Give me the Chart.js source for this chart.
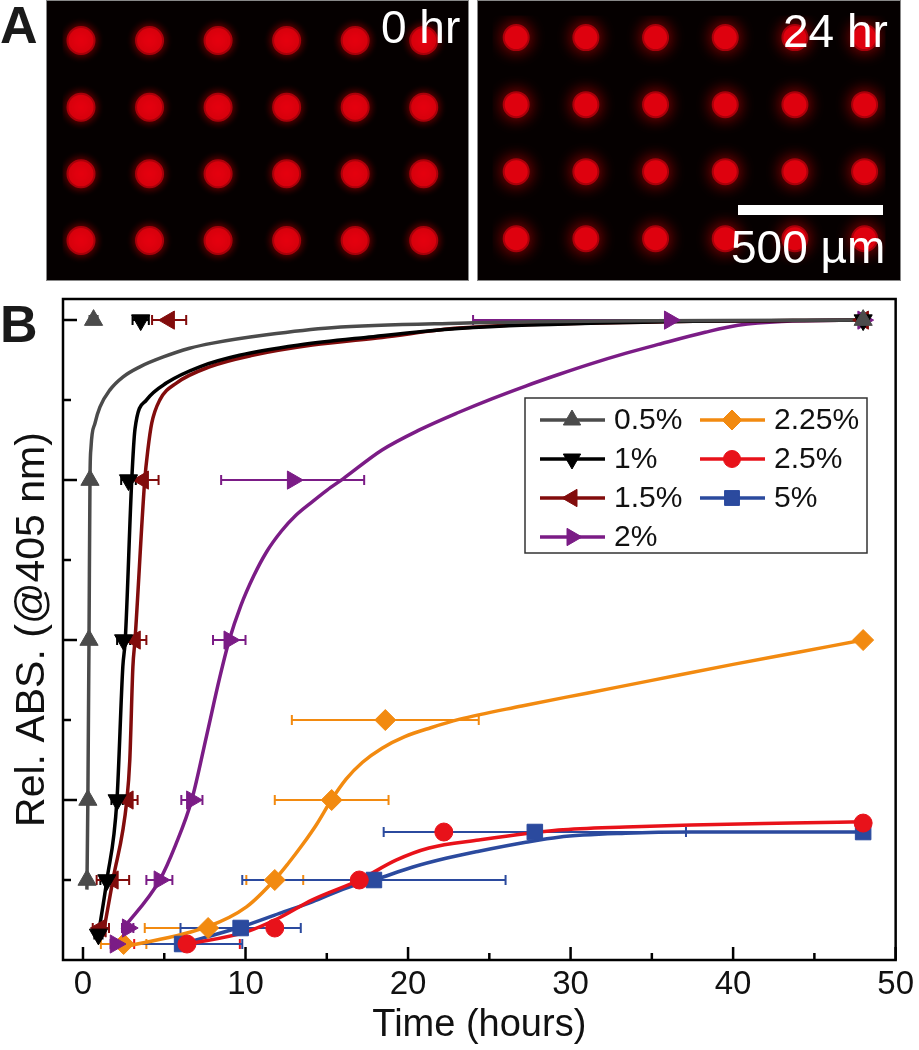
<!DOCTYPE html>
<html>
<head>
<meta charset="utf-8">
<script src="https://cdn.jsdelivr.net/npm/chart.js@4.4.1/dist/chart.umd.min.js"></script>
<style>
body { margin: 0; background: #fff; font-family: "Liberation Sans", Arial, sans-serif; }
#page { position: relative; width: 919px; height: 1050px; overflow: hidden; }
.abs { position: absolute; }
.panel { font-weight: bold; font-size: 52px; line-height: 52px; color: #1a1a1a; }
.imgtxt { color: #fff; font-size: 46px; line-height: 46px; white-space: nowrap; }
canvas.img { outline: 1px solid #888; }
</style>
</head>
<body>
<div id="page">
  <div class="abs panel" style="left:0;top:-1px">A</div>
  <canvas id="img0" class="abs img" width="421" height="279" style="left:47px;top:1px"></canvas>
  <canvas id="img24" class="abs img" width="422" height="279" style="left:478px;top:1px"></canvas>
  <div class="abs imgtxt" style="left:381px;top:4px">0 hr</div>
  <div class="abs imgtxt" style="left:783px;top:8px">24 hr</div>
  <div class="abs" style="left:738px;top:205px;width:145px;height:10px;background:#fff"></div>
  <div class="abs imgtxt" style="left:731px;top:224px">500 µm</div>

  <div class="abs panel" style="left:0;top:298px">B</div>
  <canvas id="kinetics" class="abs" width="919" height="765" style="left:0;top:285px"></canvas>
</div>

<script>
// ---- panel A: dot arrays ----
const dotCols = [0, 1, 2, 3, 4, 5];
const dotRows = [0, 1, 2, 3];

// ---- panel B: series ----
const seriesLabels = ['0.5%', '1%', '1.5%', '2%', '2.25%', '2.5%', '5%'];
const seriesColors = ['#4b4b4b', '#000000', '#820c0c', '#7b1c86', '#f28a10', '#e8121a', '#2b4a9e'];
const markerStyles = ['triangle', 'triangle', 'triangle', 'triangle', 'rectRot', 'circle', 'rect'];
const markerRotations = [0, 180, 270, 90, 0, 0, 0];
const markerRadii = [10.5, 10.5, 10.5, 10.5, 10.5, 9, 11];

// measured points: time (h), relative absorbance, time error (h)
const time05 = [0.65, 0.43, 0.37, 0.3, 0.25, 48];
const abs05 = [1.0, 0.75, 0.5, 0.25, 0.125, 1.0];
const err05 = [0.25, 0.1, 0.1, 0.1, 0.1, 0];

const time1 = [3.55, 2.8, 2.5, 2.1, 1.47, 0.95, 48];
const abs1 = [1.0, 0.75, 0.5, 0.25, 0.125, 0.04, 1.0];
const err1 = [0.5, 0.45, 0.4, 0.35, 0.4, 0.25, 0];

const time15 = [5.3, 3.7, 3.2, 2.76, 1.84, 1.1, 48];
const abs15 = [1.0, 0.75, 0.5, 0.25, 0.125, 0.05, 1.0];
const err15 = [1.05, 0.95, 0.7, 0.6, 1.0, 0.5, 0];

const time2 = [36.1, 12.9, 9.0, 6.7, 4.7, 2.75, 2.0, 48];
const abs2 = [1.0, 0.75, 0.5, 0.25, 0.125, 0.05, 0.025, 1.0];
const err2 = [12.1, 4.4, 1.0, 0.65, 0.8, 0.35, 0.3, 0];

const time225 = [48, 18.6, 15.3, 11.8, 7.7, 2.5];
const abs225 = [0.5, 0.375, 0.25, 0.125, 0.05, 0.025];
const err225 = [0, 5.75, 3.5, 1.75, 3.9, 1.4];

const time25 = [48, 22.2, 17.0, 11.8, 6.4];
const abs25 = [0.214, 0.2, 0.125, 0.05, 0.025];
const err25 = [0, 0, 0, 0, 3.25];

const time5 = [48, 27.8, 17.9, 9.7, 6.1];
const abs5 = [0.2, 0.2, 0.125, 0.05, 0.025];
const err5 = [0, 9.3, 8.1, 3.7, 3.7];

// fitted curves
const fit05X = [0.24, 0.3, 0.37, 0.43, 0.49, 0.74, 1.04, 1.66, 2.45, 3.5, 4.9, 6.56, 7.98, 11.3, 15.3, 23.1, 35, 48];
const fit05Y = [0.11, 0.25, 0.5, 0.75, 0.8, 0.839, 0.864, 0.891, 0.911, 0.927, 0.942, 0.956, 0.964, 0.977, 0.988, 0.995, 0.999, 1.0];

const fit1X = [0.92, 1.47, 2.09, 2.45, 2.6, 3.0, 3.2, 3.9, 5.15, 7.18, 9.63, 13.3, 17.4, 23.1, 35, 48];
const fit1Y = [0.036, 0.125, 0.25, 0.458, 0.5, 0.75, 0.83, 0.875, 0.902, 0.927, 0.945, 0.961, 0.973, 0.987, 0.997, 1.0];

const fit15X = [1.23, 1.84, 2.7, 2.88, 3.07, 3.2, 3.8, 3.99, 4.23, 4.72, 5.77, 7.79, 10.43, 14.11, 18.4, 23.13, 35, 48];
const fit15Y = [0.039, 0.125, 0.25, 0.3125, 0.458, 0.5, 0.75, 0.797, 0.839, 0.875, 0.902, 0.927, 0.945, 0.961, 0.973, 0.9875, 0.997, 1.0];

const fit2X = [2.4, 4.72, 5.7, 6.69, 7.6, 8.4, 9.0, 9.7, 10.5, 11.3, 12.2, 13.1, 14.1, 15.0, 16.0, 18.4, 20.67, 23.13, 25.15, 27.24, 29.26, 31.29, 33.37, 35.4, 38.28, 40.3, 43, 48];
const fit2Y = [0.047, 0.125, 0.18, 0.25, 0.35, 0.44, 0.5, 0.553, 0.6, 0.638, 0.67, 0.695, 0.716, 0.734, 0.752, 0.797, 0.828, 0.856, 0.877, 0.897, 0.915, 0.932, 0.948, 0.962, 0.981, 0.992, 0.998, 1.0];

const fit225X = [2.45, 7.67, 10.06, 11.78, 12.6, 13.5, 14.4, 15.28, 16.2, 17.2, 18.4, 19.8, 21.4, 23.13, 27, 31, 35, 40, 44, 48];
const fit225Y = [0.02, 0.052, 0.083, 0.125, 0.15, 0.18, 0.213, 0.25, 0.283, 0.309, 0.331, 0.349, 0.363, 0.376, 0.397, 0.417, 0.437, 0.462, 0.481, 0.5];

const fit25X = [6.44, 10.06, 12.09, 14.11, 17.0, 19.26, 21.29, 24.36, 29.26, 33.37, 37.42, 43.56, 48];
const fit25Y = [0.025, 0.044, 0.066, 0.094, 0.125, 0.156, 0.175, 0.1875, 0.203, 0.208, 0.211, 0.214, 0.216];

const fit5X = [6.07, 9.75, 12.09, 14.11, 16.2, 17.91, 20.25, 22.33, 24.36, 27.24, 29.26, 33.37, 37.42, 48];
const fit5Y = [0.025, 0.052, 0.073, 0.091, 0.1125, 0.125, 0.145, 0.159, 0.17, 0.184, 0.192, 0.198, 0.2, 0.2];

// axis ticks
const xTickLabels = [0, 10, 20, 30, 40, 50];
const xMinorTicks = [5, 15, 25, 35, 45];
const yMajorTicks = [0.25, 0.5, 0.75, 1.0];
const yMinorTicks = [0.125, 0.375, 0.625, 0.875];

const FONT = '"Liberation Sans", Arial, sans-serif';
Chart.defaults.font.family = FONT;
Chart.defaults.color = '#111';

// ---------- panel A ----------
const blackBg = {
  id: 'blackBg',
  beforeDraw(chart) {
    const ctx = chart.ctx;
    ctx.save();
    ctx.fillStyle = '#050000';
    ctx.fillRect(0, 0, chart.width, chart.height);
    ctx.restore();
  },
  beforeDatasetsDraw(chart, args, opts) {
    chart.ctx.save();
    chart.ctx.shadowColor = opts.glow;
    chart.ctx.shadowBlur = opts.blur;
  },
  afterDatasetsDraw(chart) {
    chart.ctx.restore();
  }
};

function dotChart(id, xMin, xMax, yMin, yMax, radius, glow, blur) {
  const pts = [];
  dotRows.forEach(r => dotCols.forEach(c => pts.push({x: c, y: r})));
  new Chart(document.getElementById(id), {
    type: 'scatter',
    data: {datasets: [{data: pts, pointRadius: radius, pointBackgroundColor: '#e4000f', pointBorderColor: '#a8000a', pointBorderWidth: 2}]},
    options: {
      responsive: false,
      animation: false,
      layout: {padding: 0},
      plugins: {legend: {display: false}, tooltip: {enabled: false}, blackBg: {glow: glow, blur: blur}},
      scales: {
        x: {type: 'linear', display: false, min: xMin, max: xMax},
        y: {type: 'linear', display: false, min: yMin, max: yMax, reverse: true}
      }
    },
    plugins: [blackBg]
  });
}

dotChart('img0', -0.27, 5.42, -0.36, 3.36, 13.5, 'rgba(160,0,0,0.9)', 9);
dotChart('img24', -0.34, 5.3, -0.33, 3.4, 12.5, 'rgba(180,10,10,0.95)', 16);

// ---------- panel B ----------
const errorBars = {
  id: 'errorBars',
  beforeDatasetsDraw(chart) {
    const {ctx, scales: {x, y}} = chart;
    chart.data.datasets.forEach(ds => {
      if (!ds.xErr) return;
      ctx.save();
      ctx.strokeStyle = ds.borderColor;
      ctx.lineWidth = 2;
      ds.data.forEach((p, j) => {
        const e = ds.xErr[j];
        if (!e) return;
        const x0 = x.getPixelForValue(p.x - e);
        const x1 = x.getPixelForValue(p.x + e);
        const py = y.getPixelForValue(p.y);
        ctx.beginPath();
        ctx.moveTo(x0, py); ctx.lineTo(x1, py);
        ctx.moveTo(x0, py - 5); ctx.lineTo(x0, py + 5);
        ctx.moveTo(x1, py - 5); ctx.lineTo(x1, py + 5);
        ctx.stroke();
      });
      ctx.restore();
    });
  }
};

const frame = {
  id: 'frame',
  afterDatasetsDraw(chart) {
    const {ctx, chartArea: a, scales: {x, y}} = chart;
    ctx.save();
    ctx.strokeStyle = '#000';
    ctx.lineWidth = 2.5;
    ctx.strokeRect(a.left, a.top, a.right - a.left, a.bottom - a.top);
    ctx.beginPath();
    xTickLabels.forEach(v => { const p = x.getPixelForValue(v); ctx.moveTo(p, a.bottom); ctx.lineTo(p, a.bottom - 13); });
    xMinorTicks.forEach(v => { const p = x.getPixelForValue(v); ctx.moveTo(p, a.bottom); ctx.lineTo(p, a.bottom - 7); });
    yMajorTicks.forEach(v => { const p = y.getPixelForValue(v); ctx.moveTo(a.left, p); ctx.lineTo(a.left + 14, p); });
    yMinorTicks.forEach(v => { const p = y.getPixelForValue(v); ctx.moveTo(a.left, p); ctx.lineTo(a.left + 8, p); });
    ctx.stroke();
    ctx.restore();
  }
};

const boxLegend = {
  id: 'boxLegend',
  afterDraw(chart) {
    const {ctx, chartArea: a} = chart;
    const left = a.left + 462, top = a.top + 99, w = 342, h = 155;
    ctx.save();
    ctx.fillStyle = '#fff';
    ctx.fillRect(left, top, w, h);
    ctx.strokeStyle = '#333';
    ctx.lineWidth = 1.5;
    ctx.strokeRect(left, top, w, h);
    ctx.font = '30px ' + FONT;
    ctx.textBaseline = 'middle';
    seriesLabels.forEach((lab, k) => {
      const col = k < 4 ? 0 : 1;
      const row = k < 4 ? k : k - 4;
      const cx = left + (col ? 175 : 15);
      const cy = top + 22 + row * 39;
      ctx.strokeStyle = seriesColors[k];
      ctx.fillStyle = seriesColors[k];
      ctx.lineWidth = 3.5;
      ctx.beginPath();
      ctx.moveTo(cx, cy); ctx.lineTo(cx + 65, cy);
      ctx.stroke();
      ctx.lineWidth = 1;
      Chart.helpers.drawPoint(ctx, {pointStyle: markerStyles[k], radius: markerRadii[k] - 0.5, rotation: markerRotations[k], borderWidth: 1}, cx + 32, cy);
      ctx.fillStyle = '#111';
      ctx.fillText(lab, cx + 74, cy + 1);
    });
    ctx.restore();
  }
};

const pointSets = [
  [time05, abs05, err05], [time1, abs1, err1], [time15, abs15, err15], [time2, abs2, err2],
  [time225, abs225, err225], [time25, abs25, err25], [time5, abs5, err5]
];
const fitSets = [
  [fit05X, fit05Y], [fit1X, fit1Y], [fit15X, fit15Y], [fit2X, fit2Y],
  [fit225X, fit225Y], [fit25X, fit25Y], [fit5X, fit5Y]
];

const datasets = [];
fitSets.forEach(([fx, fy], k) => {
  datasets.push({
    label: seriesLabels[k] + ' fit',
    data: fx.map((v, i) => ({x: v, y: fy[i]})),
    showLine: true,
    borderColor: seriesColors[k],
    borderWidth: 3.5,
    pointRadius: 0,
    cubicInterpolationMode: 'monotone',
    order: 2
  });
});
pointSets.forEach(([t, v, e], k) => {
  datasets.push({
    label: seriesLabels[k],
    data: t.map((tt, i) => ({x: tt, y: v[i]})),
    xErr: e,
    showLine: false,
    borderColor: seriesColors[k],
    backgroundColor: seriesColors[k],
    pointStyle: markerStyles[k],
    pointRotation: markerRotations[k],
    pointRadius: markerRadii[k],
    pointBorderWidth: 1,
    order: 1
  });
});

new Chart(document.getElementById('kinetics'), {
  type: 'scatter',
  data: {datasets: datasets},
  options: {
    responsive: false,
    animation: false,
    clip: false,
    layout: {padding: {left: 0, right: 21, top: 14, bottom: 0}},
    plugins: {legend: {display: false}, tooltip: {enabled: false}},
    scales: {
      x: {
        type: 'linear',
        min: -1.23,
        max: 50,
        afterBuildTicks: axis => { axis.ticks = xTickLabels.map(v => ({value: v})); },
        afterFit: axis => { axis.height = 90; },
        grid: {display: false, drawTicks: false},
        border: {display: false},
        ticks: {font: {size: 33}, padding: 5, color: '#111'},
        title: {display: true, text: 'Time (hours)', font: {size: 38}, padding: {top: 0, bottom: 2}, color: '#111'}
      },
      y: {
        type: 'linear',
        min: 0,
        max: 1.033,
        afterFit: axis => { axis.width = 63; },
        grid: {display: false, drawTicks: false},
        border: {display: false},
        ticks: {display: false},
        title: {display: true, text: 'Rel. ABS. (@405 nm)', font: {size: 41}, padding: {top: 8, bottom: 0}, color: '#111'}
      }
    }
  },
  plugins: [errorBars, frame, boxLegend]
});
</script>
</body>
</html>
